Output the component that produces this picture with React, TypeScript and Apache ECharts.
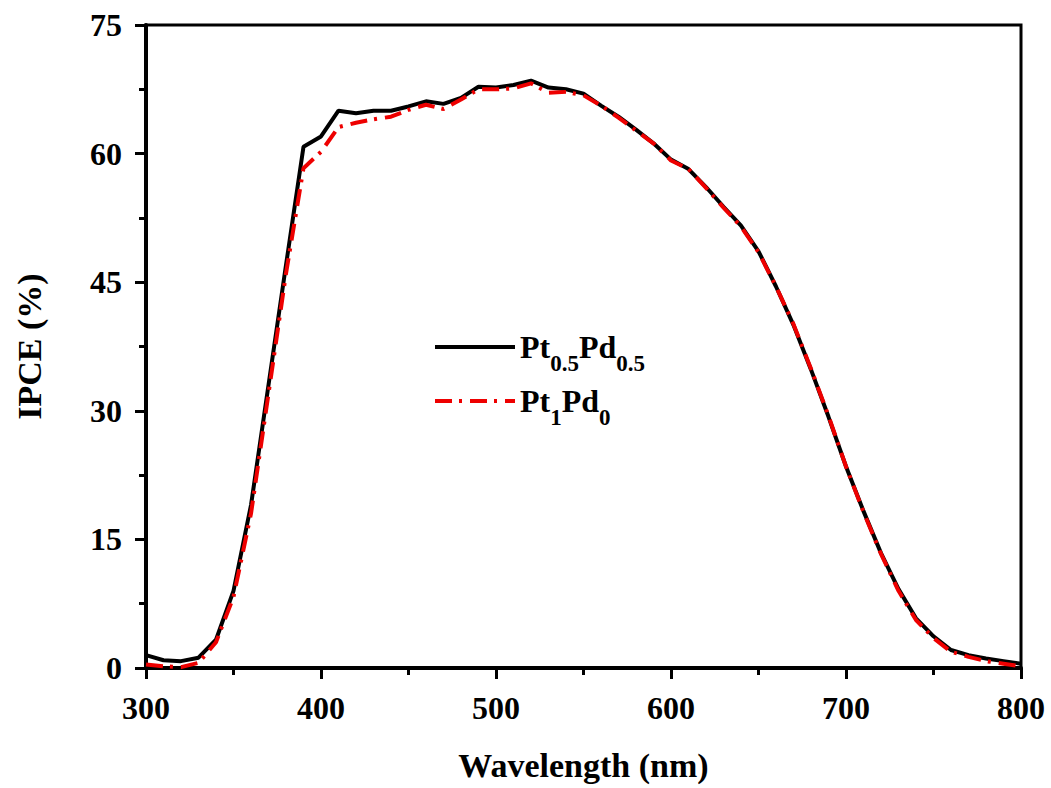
import React, { useEffect, useRef } from "react";
import * as echarts from "echarts";

const wavelengths = [
  300, 310, 320, 330, 340, 350, 360, 370, 380, 390, 400, 410, 420, 430, 440, 450, 460,
  470, 480, 490, 500, 510, 520, 530, 540, 550, 560, 570, 580, 590, 600, 610, 620, 630,
  640, 650, 660, 670, 680, 690, 700, 710, 720, 730, 740, 750, 760, 770, 780, 790, 800,
];

const ptPdHalf = [
  1.5, 0.9, 0.8, 1.2, 3.3, 9.0, 19.0, 33.0, 47.0, 60.8, 62.0, 65.0, 64.7, 65.0, 65.0,
  65.5, 66.1, 65.8, 66.5, 67.8, 67.7, 68.0, 68.5, 67.7, 67.5, 67.0, 65.6, 64.3, 62.8,
  61.2, 59.3, 58.2, 56.1, 53.8, 51.6, 48.6, 44.5, 40.0, 34.8, 29.3, 23.5, 18.3, 13.4,
  9.2, 5.8, 3.7, 2.1, 1.5, 1.1, 0.8, 0.5,
];

const pt1Pd0 = [
  0.4, 0.2, 0.1, 0.6, 3.0, 8.3, 18.0, 32.0, 46.0, 58.3, 60.2, 63.1, 63.6, 64.0, 64.3,
  65.1, 65.7, 65.2, 66.3, 67.5, 67.5, 67.6, 68.2, 67.1, 67.2, 66.8, 65.6, 64.2, 62.7,
  61.2, 59.2, 58.2, 56.0, 53.7, 51.5, 48.5, 44.5, 40.1, 34.9, 29.4, 23.5, 18.2, 13.3,
  9.0, 5.6, 3.5, 1.9, 1.3, 0.8, 0.5, 0.2,
];

const yTicks = [0, 15, 30, 45, 60, 75];
const xTicks = [300, 400, 500, 600, 700, 800];

const seriesNames = ["Pt0.5Pd0.5", "Pt1Pd0"];
const legendRich: Record<string, string> = {
  "Pt0.5Pd0.5": "{b|Pt}{s|0.5}{b|Pd}{s|0.5}",
  Pt1Pd0: "{b|Pt}{s|1}{b|Pd}{s|0}",
};

const FONT = "'Liberation Serif', 'Times New Roman', serif";

const legendText = {
  fontFamily: FONT,
  color: "#000",
  rich: {
    b: { fontSize: 32, fontWeight: "bold", fontFamily: FONT, color: "#000" },
    s: {
      fontSize: 23,
      fontWeight: "bold",
      fontFamily: FONT,
      color: "#000",
      padding: [32, 0, 0, 0],
    },
  },
};

export default function App() {
  const ref = useRef<HTMLDivElement>(null);

  useEffect(() => {
    if (!ref.current) return;
    const chart = echarts.init(ref.current, undefined, { renderer: "svg" });
    const pair = (vals: number[]) => wavelengths.map((w, i) => [w, vals[i]]);
    const mkLegend = (name: string, top: number) => ({
      orient: "vertical",
      left: 433,
      top,
      itemWidth: 80,
      itemHeight: 16,
      padding: 0,
      data: [name],
      formatter: (n: string) => legendRich[n] || n,
      itemStyle: { opacity: 0 },
      lineStyle: { width: 4 },
      textStyle: legendText,
    });
    chart.setOption({
      animation: false,
      backgroundColor: "#ffffff",
      grid: {
        left: 146,
        right: 30,
        top: 25,
        bottom: 120,
        show: true,
        borderColor: "#000",
        borderWidth: 3,
        backgroundColor: "transparent",
      },
      legend: [mkLegend(seriesNames[0], 331), mkLegend(seriesNames[1], 385)],
      xAxis: {
        type: "value",
        min: 300,
        max: 800,
        interval: 100,
        name: "Wavelength (nm)",
        nameLocation: "middle",
        nameGap: 80,
        nameTextStyle: { fontFamily: FONT, fontWeight: "bold", fontSize: 34, color: "#000" },
        axisLine: { show: true, lineStyle: { color: "#000", width: 4 } },
        axisTick: { show: true, inside: false, length: 11, lineStyle: { color: "#000", width: 3 } },
        minorTick: { show: true, splitNumber: 2, length: 7, lineStyle: { color: "#000", width: 3 } },
        splitLine: { show: false },
        axisLabel: {
          margin: 24,
          fontFamily: FONT,
          fontWeight: "bold",
          fontSize: 32,
          color: "#000",
          formatter: (v: number) => (xTicks.includes(v) ? String(v) : ""),
        },
      },
      yAxis: {
        type: "value",
        min: 0,
        max: 75,
        interval: 15,
        name: "IPCE (%)",
        nameLocation: "middle",
        nameGap: 100,
        nameTextStyle: { fontFamily: FONT, fontWeight: "bold", fontSize: 34, color: "#000" },
        axisLine: { show: true, lineStyle: { color: "#000", width: 4 } },
        axisTick: { show: true, inside: false, length: 11, lineStyle: { color: "#000", width: 3 } },
        minorTick: { show: true, splitNumber: 2, length: 7, lineStyle: { color: "#000", width: 3 } },
        splitLine: { show: false },
        axisLabel: {
          margin: 24,
          fontFamily: FONT,
          fontWeight: "bold",
          fontSize: 32,
          color: "#000",
          formatter: (v: number) => (yTicks.includes(v) ? String(v) : ""),
        },
      },
      series: [
        {
          name: seriesNames[0],
          type: "line",
          data: pair(ptPdHalf),
          symbol: "none",
          smooth: false,
          lineStyle: { color: "#000", width: 4 },
          itemStyle: { color: "#000" },
          z: 3,
        },
        {
          name: seriesNames[1],
          type: "line",
          data: pair(pt1Pd0),
          symbol: "none",
          smooth: false,
          lineStyle: { color: "#ee0000", width: 4, type: [17, 7, 3, 8] },
          itemStyle: { color: "#ee0000" },
          z: 4,
        },
      ],
    });
    return () => chart.dispose();
  }, []);

  return (
    <div
      ref={ref}
      style={{ position: "fixed", left: 0, top: 0, width: 1051, height: 788, background: "#fff" }}
    />
  );
}
